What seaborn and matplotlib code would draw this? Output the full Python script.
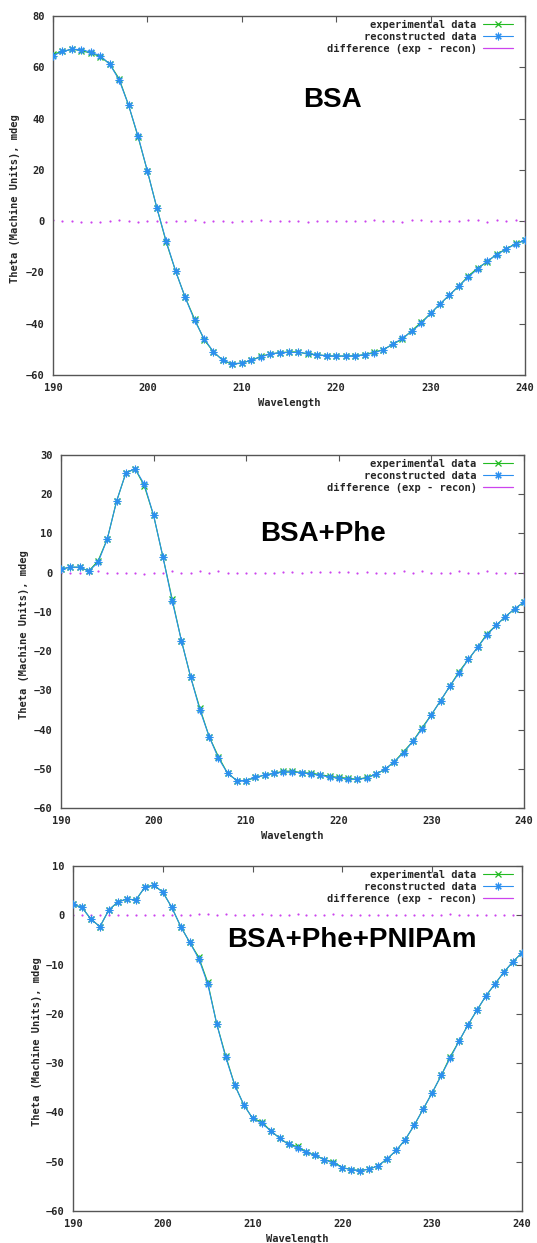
import matplotlib
matplotlib.use("Agg")
import matplotlib.pyplot as plt
from matplotlib.lines import Line2D
import numpy as np
import pandas as pd
import seaborn as sns

# ---------------- data ----------------
wavelength = list(range(190, 241))

bsa_recon = [64.5, 66.2, 67.0, 66.9, 65.9, 64.5, 61.3, 55.1, 45.3, 33.3, 19.5,
             5.2, -7.9, -19.6, -29.7, -38.7, -45.8, -51.0, -54.3, -55.6, -55.3,
             -54.3, -53.0, -51.8, -51.3, -51.2, -51.2, -51.6, -52.1, -52.5, -52.6,
             -52.6, -52.5, -52.1, -51.4, -50.1, -48.0, -45.7, -43.0, -39.9, -36.0,
             -32.3, -28.8, -25.3, -21.8, -18.6, -15.6, -13.1, -10.9, -9.0, -7.5]
bsa_exp = [65.1, 66.2, 67.0, 66.5, 65.5, 64.2, 61.3, 55.6, 45.3, 33.0, 19.5,
           5.2, -8.3, -19.6, -29.7, -38.2, -46.2, -51.0, -54.3, -55.9, -55.3,
           -54.3, -52.7, -51.8, -51.3, -51.0, -51.0, -51.9, -52.1, -52.5, -52.6,
           -52.6, -52.5, -52.1, -51.1, -50.1, -48.0, -46.0, -42.7, -39.5, -36.0,
           -32.3, -28.8, -25.3, -21.4, -18.2, -15.9, -12.8, -10.9, -8.7, -7.5]

phe_recon = [0.9, 1.4, 1.4, 0.4, 2.6, 8.6, 18.2, 25.4, 26.5, 22.5, 14.6,
             4.1, -7.1, -17.3, -26.6, -35.0, -41.8, -47.3, -51.2, -53.0, -53.0,
             -52.2, -51.6, -51.2, -50.8, -50.8, -51.0, -51.3, -51.7, -52.1, -52.4,
             -52.6, -52.7, -52.4, -51.4, -50.1, -48.2, -45.9, -43.0, -39.8, -36.2,
             -32.6, -28.9, -25.5, -22.1, -19.0, -15.9, -13.4, -11.2, -9.2, -7.5]
phe_exp = [0.9, 1.4, 1.4, 0.4, 3.0, 8.6, 18.2, 25.4, 26.5, 22.1, 14.6,
           4.1, -6.7, -17.3, -26.6, -34.6, -41.8, -46.9, -51.2, -53.0, -53.0,
           -52.2, -51.6, -51.2, -50.6, -50.6, -51.0, -51.1, -51.5, -51.9, -52.2,
           -52.4, -52.7, -52.2, -51.4, -50.1, -48.2, -45.6, -43.0, -39.5, -36.2,
           -32.6, -28.9, -25.2, -22.1, -19.0, -15.6, -13.4, -11.2, -9.2, -7.5]

pnipam_recon = [2.2, 1.6, -0.8, -2.3, 1.1, 2.7, 3.3, 3.1, 5.7, 6.1, 4.7,
                1.6, -2.3, -5.5, -8.8, -13.9, -22.0, -28.8, -34.4, -38.4, -41.2,
                -42.2, -43.7, -45.2, -46.5, -47.2, -48.1, -48.7, -49.6, -50.3, -51.2,
                -51.6, -51.8, -51.5, -50.8, -49.4, -47.7, -45.5, -42.6, -39.3, -36.0,
                -32.5, -29.0, -25.5, -22.2, -19.2, -16.3, -13.9, -11.5, -9.4, -7.6]
pnipam_exp = [2.2, 1.6, -0.8, -2.3, 1.1, 2.7, 3.3, 3.1, 5.7, 6.1, 4.7,
              1.6, -2.3, -5.5, -8.5, -13.6, -22.0, -28.5, -34.4, -38.4, -41.2,
              -41.9, -43.7, -45.2, -46.5, -46.9, -48.1, -48.7, -49.6, -50.0, -51.2,
              -51.6, -51.8, -51.5, -50.8, -49.4, -47.7, -45.5, -42.6, -39.3, -36.0,
              -32.5, -28.7, -25.5, -22.2, -19.2, -16.3, -13.9, -11.5, -9.4, -7.6]

titles = ["BSA", "BSA+Phe", "BSA+Phe+PNIPAm"]
y_limits = [(-60, 80), (-60, 30), (-60, 10)]
y_steps = [20, 10, 10]
x_ticks = [190, 200, 210, 220, 230, 240]
legend_labels = ["experimental data", "reconstructed data", "difference (exp - recon)"]
x_label = "Wavelength"
y_label = "Theta (Machine Units), mdeg"

# ---------------- style ----------------
sns.set_style("white")
plt.rcParams["font.family"] = ["DejaVu Sans Mono", "DejaVu Sans"]

GREEN = "#22bb22"
BLUE = "#2b8ff0"
MAGENTA = "#cc44ee"
FRAME = "#555555"
MONO = dict(family="DejaVu Sans Mono", weight="bold", size=7.5)

fig = plt.figure(figsize=(5.37, 12.43), dpi=100)

W, H = 537.0, 1243.0
# pixel boxes: left, right, top, bottom
boxes = [(53, 525, 16, 375), (61, 524, 455, 808), (73, 522, 866, 1211)]
title_pos = [(0.591, 0.766), (0.566, 0.776), (0.621, 0.786)]
ylabel_px = [20, 29, 42]  # right edge of rotated y label, in px

datasets = [(bsa_exp, bsa_recon), (phe_exp, phe_recon), (pnipam_exp, pnipam_recon)]

ast = (8, 2, 0)  # gnuplot-like asterisk
EXP_STYLE = dict(color=GREEN, lw=0.8, marker="x", markersize=5,
                 markeredgewidth=0.9, markeredgecolor=GREEN)
REC_STYLE = dict(color=BLUE, lw=0.8, marker=ast, markersize=5.5,
                 markeredgewidth=0.8, markeredgecolor=BLUE)

for i, (exp_vals, rec_vals) in enumerate(datasets):
    l, r, t, b = boxes[i]
    ax = fig.add_axes([l / W, 1 - b / H, (r - l) / W, (b - t) / H])
    df = pd.DataFrame({"wl": wavelength, "exp": exp_vals, "rec": rec_vals})
    df["diff"] = df["exp"] - df["rec"]

    sns.lineplot(data=df, x="wl", y="exp", ax=ax, estimator=None, sort=False,
                 zorder=2, **EXP_STYLE)
    sns.lineplot(data=df, x="wl", y="rec", ax=ax, estimator=None, sort=False,
                 zorder=3, **REC_STYLE)
    sns.scatterplot(data=df, x="wl", y="diff", ax=ax, color=MAGENTA, s=2.5,
                    linewidth=0, marker="o", zorder=1)

    ax.set_xlim(190, 240)
    ax.set_ylim(*y_limits[i])
    ax.set_xticks(x_ticks)
    ax.set_yticks(np.arange(y_limits[i][0], y_limits[i][1] + 1, y_steps[i]))
    ax.tick_params(direction="in", length=4, width=0.8, color=FRAME,
                   top=True, right=True, labeltop=False, labelright=False,
                   pad=6)
    for lab in ax.get_xticklabels() + ax.get_yticklabels():
        lab.set_fontfamily("DejaVu Sans Mono")
        lab.set_fontweight("bold")
        lab.set_fontsize(7.5)
    for sp in ax.spines.values():
        sp.set_color(FRAME)
        sp.set_linewidth(1.0)
        sp.set_visible(True)

    ax.set_xlabel(x_label, fontdict=MONO)
    ax.set_ylabel(y_label, fontdict=MONO)
    ax.xaxis.set_label_coords(0.5, -23.0 / (b - t))
    ax.yaxis.set_label_coords(-(l - ylabel_px[i]) / (r - l), 0.49)

    ax.text(title_pos[i][0], title_pos[i][1], titles[i], transform=ax.transAxes,
            ha="center", va="center", fontsize=20, fontweight="bold",
            family="Liberation Sans", color="black")

    handles = [Line2D([], [], **EXP_STYLE), Line2D([], [], **REC_STYLE),
               Line2D([], [], color=MAGENTA, lw=0.9)]
    legend_anchor = ((513 - l) / (r - l), 1 - 3.5 / (b - t))
    ax.legend(handles, legend_labels, loc="upper right",
              bbox_to_anchor=legend_anchor, frameon=False, markerfirst=False,
              prop=MONO, handlelength=2.9, handletextpad=0.6, labelspacing=0.2,
              borderpad=0, borderaxespad=0, numpoints=1)

fig.savefig("out.png", dpi=100)
